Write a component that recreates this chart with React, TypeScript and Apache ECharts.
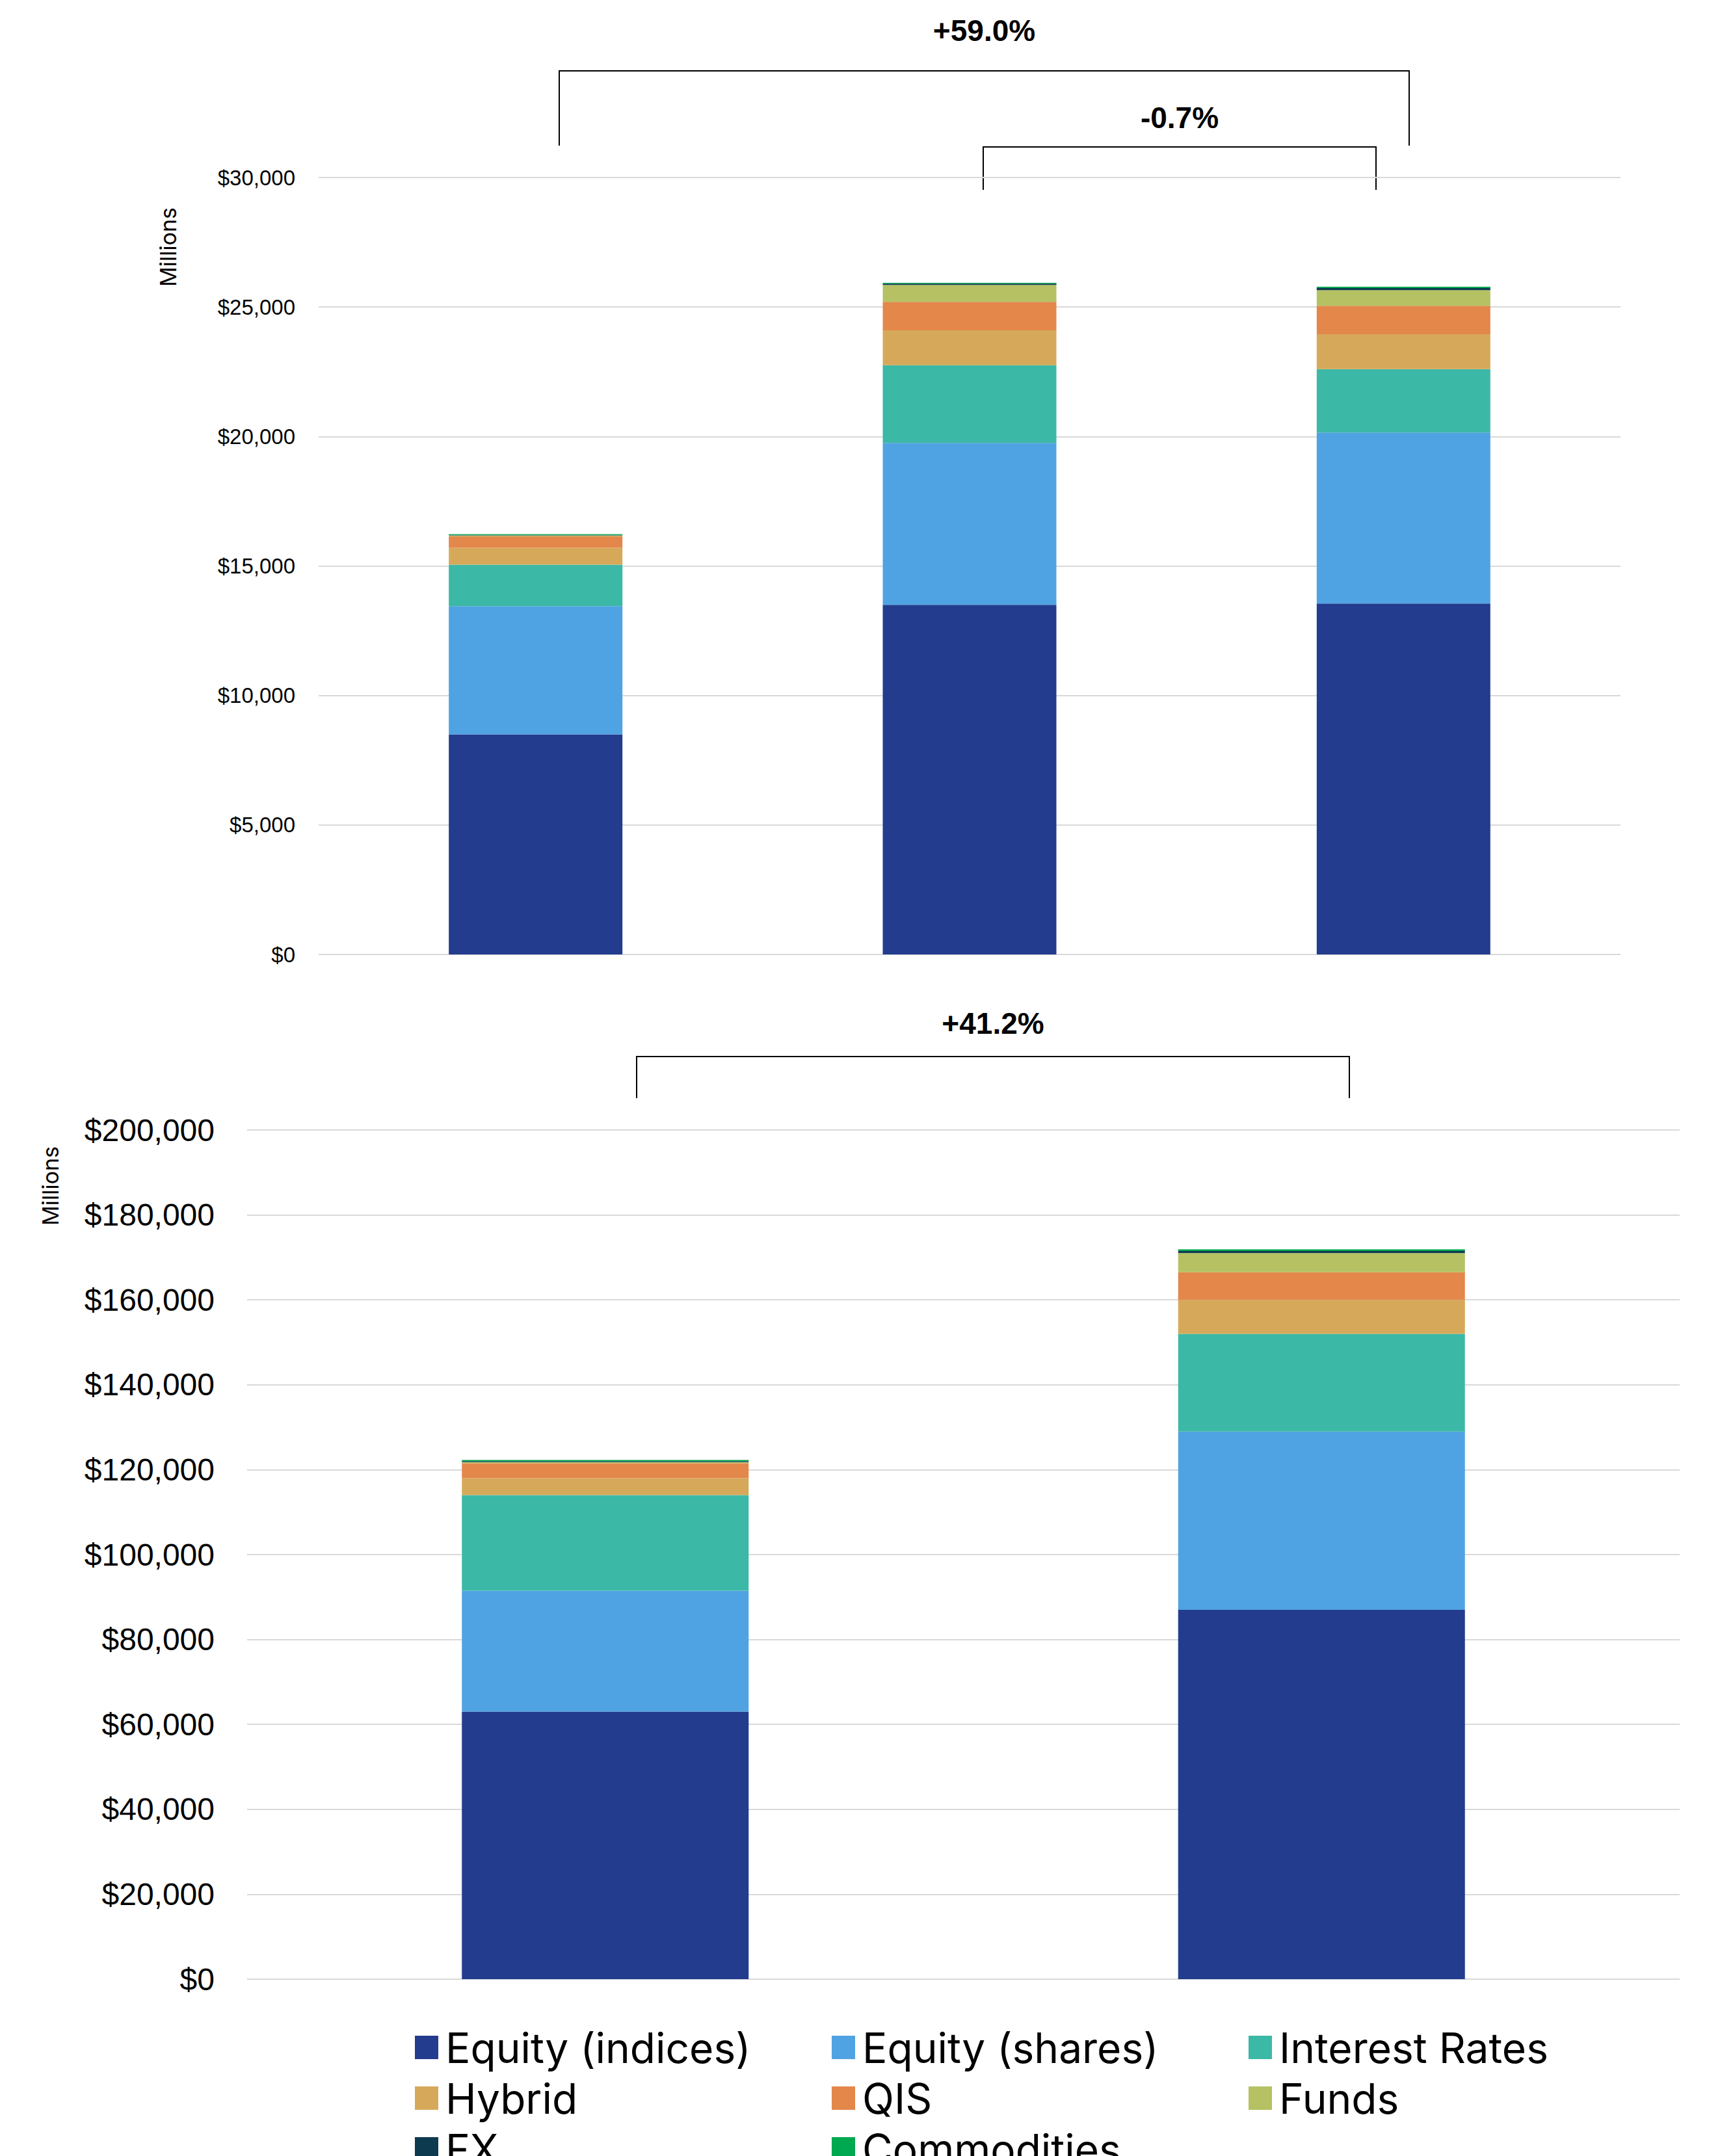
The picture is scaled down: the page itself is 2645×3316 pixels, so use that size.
import { useEffect, useRef } from 'react';
import * as echarts from 'echarts';

const seriesNames = ['Equity (indices)', 'Equity (shares)', 'Interest Rates', 'Hybrid', 'QIS', 'Funds', 'FX', 'Commodities'];
const colors = ['#233c8e', '#50a3e2', '#3cb8a6', '#d6a95a', '#e3874b', '#b5c163', '#0d3a4f', '#00a84f'];

const topCategories = ['A', 'B', 'C'];
const bottomCategories = ['A', 'B'];

// values in millions, per series: [bar1, bar2, bar3]
const topValues = [
  [8500, 13500, 13550],
  [4950, 6250, 6600],
  [1600, 3000, 2450],
  [650, 1350, 1350],
  [450, 1100, 1100],
  [30, 650, 600],
  [20, 50, 80],
  [30, 30, 50],
];

const bottomValues = [
  [63000, 87000],
  [28500, 42000],
  [22500, 23000],
  [4000, 8000],
  [3500, 6500],
  [300, 4500],
  [200, 500],
  [300, 400],
];

const money = (v: number) => '$' + v.toLocaleString('en-US');

export default function App() {
  const chartRef = useRef<HTMLDivElement>(null);

  useEffect(() => {
    document.body.style.margin = '0';
    if (!chartRef.current) return;
    const chart = echarts.init(chartRef.current, null, { renderer: 'svg' });

    const axisFont = 'Liberation Sans Narrow, Liberation Sans, Arial, sans-serif';

    const bracket = (x1: number, x2: number, yTop: number, yBot: number, label: string, ly: number) => [
      {
        type: 'polyline',
        shape: { points: [[x1, yBot], [x1, yTop], [x2, yTop], [x2, yBot]] },
        style: { stroke: '#000', lineWidth: 2, fill: 'none' },
      },
      {
        type: 'text',
        x: (x1 + x2) / 2,
        y: ly,
        style: { text: label, font: `bold 46px ${axisFont}`, fill: '#000', align: 'center', verticalAlign: 'middle' },
      },
    ];

    const millions = (x: number, y: number) => ({
      type: 'text',
      x,
      y,
      rotation: Math.PI / 2,
      style: { text: 'Millions', font: '34px Inter, Liberation Sans, sans-serif', fill: '#000', align: 'center', verticalAlign: 'middle' },
    });

    const series: any[] = [];
    seriesNames.forEach((name, i) => {
      series.push({
        name, type: 'bar', stack: 'top', xAxisIndex: 0, yAxisIndex: 0,
        data: topValues[i], barWidth: 267, itemStyle: { color: colors[i] },
      });
    });
    seriesNames.forEach((name, i) => {
      series.push({
        name, type: 'bar', stack: 'bottom', xAxisIndex: 1, yAxisIndex: 1,
        data: bottomValues[i], barWidth: 441, itemStyle: { color: colors[i] },
      });
    });

    const gridLine = { show: true, lineStyle: { color: '#d9d9d9', width: 2 } };

    chart.setOption({
      animation: false,
      grid: [
        { left: 490, width: 2002, top: 273, height: 1195 },
        { left: 380, width: 2203, top: 1738, height: 1306 },
      ],
      xAxis: [
        { type: 'category', gridIndex: 0, data: topCategories, axisLine: { show: false }, axisTick: { show: false }, axisLabel: { show: false } },
        { type: 'category', gridIndex: 1, data: bottomCategories, axisLine: { show: false }, axisTick: { show: false }, axisLabel: { show: false } },
      ],
      yAxis: [
        {
          type: 'value', gridIndex: 0, min: 0, max: 30000, interval: 5000,
          splitLine: gridLine,
          axisLabel: { formatter: money, fontSize: 33, color: '#000', fontFamily: axisFont, margin: 36 },
        },
        {
          type: 'value', gridIndex: 1, min: 0, max: 200000, interval: 20000,
          splitLine: gridLine,
          axisLabel: { formatter: money, fontSize: 48, color: '#000', fontFamily: axisFont, margin: 50 },
        },
      ],
      legend: {
        data: seriesNames,
        left: 633,
        top: 3112,
        width: 1960,
        itemWidth: 36,
        itemHeight: 36,
        itemGap: 14,
        icon: 'rect',
        textStyle: { fontSize: 64, color: '#000', fontFamily: 'Inter, Liberation Sans, sans-serif', width: 580, height: 58, lineHeight: 58, padding: [0, 0, 0, 6] },
      },
      graphic: [
        ...bracket(860, 2167, 109, 224, '+59.0%', 47),
        ...bracket(1512, 2116, 226, 292, '-0.7%', 181),
        ...bracket(979, 2075, 1625, 1689, '+41.2%', 1574),
        millions(258, 380),
        millions(77, 1824),
      ],
      series,
    });

    return () => chart.dispose();
  }, []);

  return <div ref={chartRef} style={{ width: 2645, height: 3316, background: '#fff' }} />;
}
